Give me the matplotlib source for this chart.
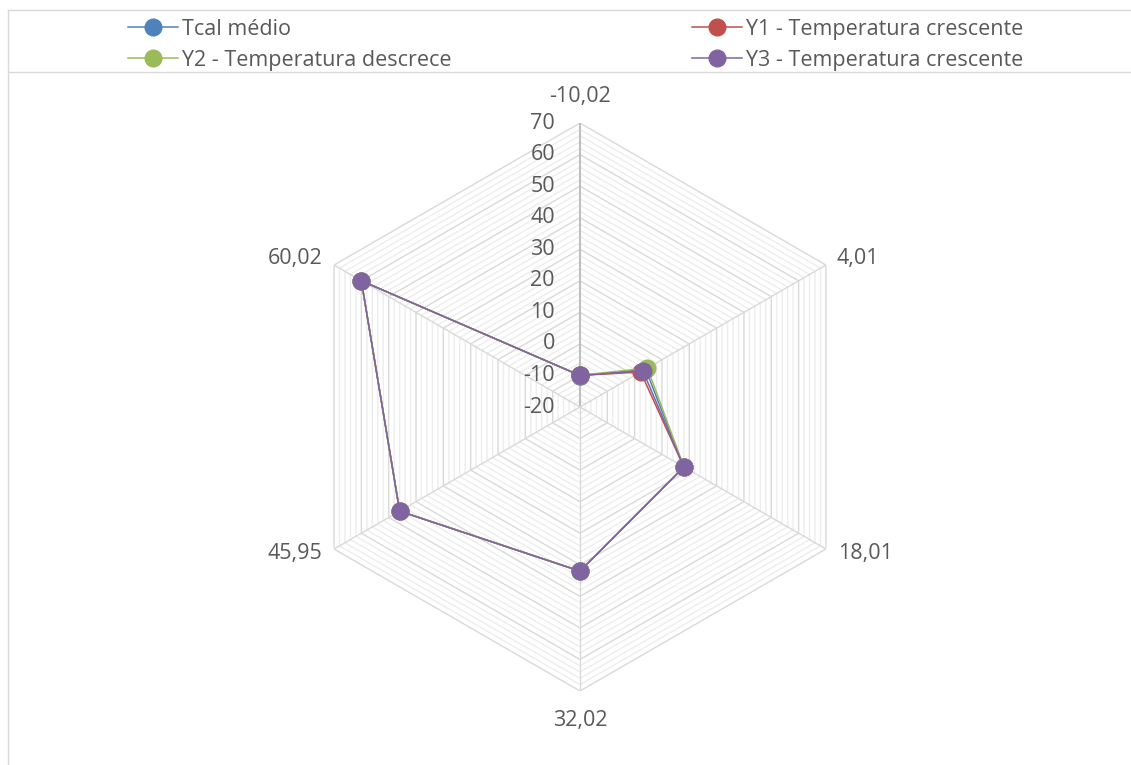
import numpy as np
import matplotlib.pyplot as plt
from matplotlib.lines import Line2D

plt.rcParams['font.family'] = ['Open Sans', 'DejaVu Sans']

# temperature points (categories of the radar)
categories = ['-10,02', '4,01', '18,01', '32,02', '45,95', '60,02']

# series
tcal_medio = [-10.02, 4.01, 18.01, 32.02, 45.95, 60.02]
y1_cresc = [-10.0, 2.2, 18.0, 32.0, 46.0, 60.0]
y2_descr = [-10.0, 4.7, 18.0, 32.0, 46.0, 60.0]
y3_cresc = [-10.0, 3.0, 18.0, 32.0, 46.0, 60.0]

r_ticks = list(range(-20, 71, 10))
r_min, r_max = -20, 70

series = [
    ('Tcal médio', tcal_medio, '#4F81BD'),
    ('Y1 - Temperatura crescente', y1_cresc, '#C0504D'),
    ('Y2 - Temperatura descrece', y2_descr, '#9BBB59'),
    ('Y3 - Temperatura crescente', y3_cresc, '#8064A2'),
]
fs = 15.5

fig = plt.figure(figsize=(11.31, 7.65), dpi=100)
ax = fig.add_axes([0.2617, 0.0967, 0.5022, 0.7425], projection='polar')
ax.set_theta_zero_location('N')
ax.set_theta_direction(-1)
ax.set_ylim(r_min, r_max)
ax.grid(False)
ax.set_xticks([])
ax.set_yticks([])
ax.spines['polar'].set_visible(False)
ax.patch.set_visible(False)

n = len(categories)
theta = np.arange(n) * 2 * np.pi / n
theta_closed = np.append(theta, theta[0])

# hexagon gridlines: minor every 2, major every 10
for v in range(r_min + 2, r_max, 2):
    if v % 10 != 0:
        ax.plot(theta_closed, [v] * (n + 1), color='#EDEDED', lw=1, zorder=1)
for v in r_ticks[1:]:
    ax.plot(theta_closed, [v] * (n + 1), color='#D9D9D9', lw=1, zorder=2)
# spokes
for i, t in enumerate(theta):
    ax.plot([t, t], [r_min, r_max], color='#BFBFBF' if i == 0 else '#D9D9D9',
            lw=1.5 if i == 0 else 1, zorder=2)

# value axis labels along the top spoke
for v in r_ticks:
    ax.annotate(str(v), xy=(0, v), xytext=(-25, 0), textcoords='offset pixels',
                ha='right', va='center', fontsize=fs, color='#595959')

# category labels around the outside
offsets = [(0, 27, 'center'), (11, 7, 'left'), (12, -4, 'left'),
           (0, -29, 'center'), (-12, -4, 'right'), (-12, 7, 'right')]
for t, lab, (dx, dy, ha) in zip(theta, categories, offsets):
    ax.annotate(lab, xy=(t, r_max), xytext=(dx, dy), textcoords='offset pixels',
                ha=ha, va='center', fontsize=fs, color='#595959')

for name, vals, col in series:
    ax.plot(theta_closed, vals + vals[:1], color=col, lw=1.1, marker='o',
            markersize=12, label=name, zorder=5)

handles = [Line2D([], [], color=c, lw=1.1, marker='o', markersize=12)
           for _, _, c in series]
labels = [s[0] for s in series]
order = [0, 2, 1, 3]
fig.legend([handles[i] for i in order], [labels[i] for i in order],
           ncol=2, loc='upper left', bbox_to_anchor=(128 / 1131, 1 - 19 / 765),
           frameon=False, fontsize=fs, labelcolor='#595959',
           handlelength=2.3, handletextpad=0.2, columnspacing=11.2,
           labelspacing=0.45, borderpad=0, borderaxespad=0)

# chart area frame and legend separator
frame = '#D9D9D9'
fig.add_artist(Line2D([8 / 1131, 1], [1 - 10 / 765] * 2, transform=fig.transFigure, color=frame, lw=1))
fig.add_artist(Line2D([8 / 1131, 1], [1 - 72 / 765] * 2, transform=fig.transFigure, color=frame, lw=1))
fig.add_artist(Line2D([8 / 1131] * 2, [0, 1 - 10 / 765], transform=fig.transFigure, color=frame, lw=1))

fig.savefig('out.png', dpi=100)
